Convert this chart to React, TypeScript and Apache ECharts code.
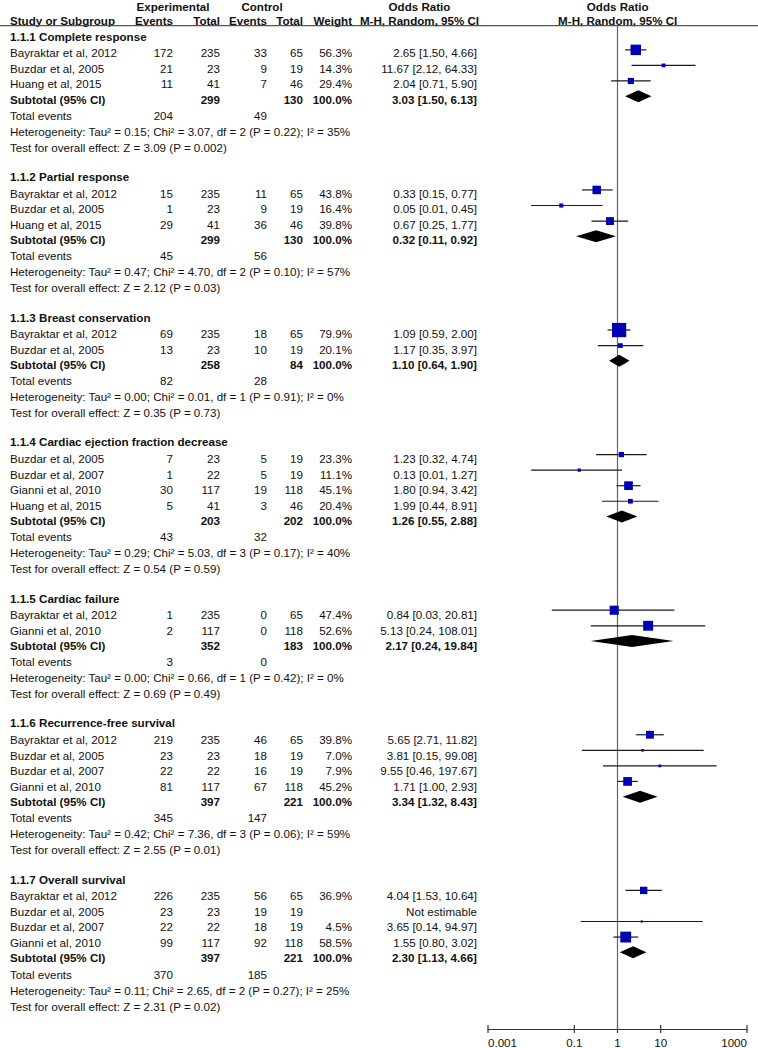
import React, { useEffect, useRef } from "react";
import * as echarts from "echarts";

// ---------- data ----------
const SECTION_TITLES = [
  "1.1.1 Complete response",
  "1.1.2 Partial response",
  "1.1.3 Breast conservation",
  "1.1.4 Cardiac ejection fraction decrease",
  "1.1.5 Cardiac failure",
  "1.1.6 Recurrence-free survival",
  "1.1.7 Overall survival",
];

const STUDY_SECTION = [0, 0, 0, 1, 1, 1, 2, 2, 3, 3, 3, 3, 4, 4, 5, 5, 5, 5, 6, 6, 6, 6];
const STUDY_NAMES = [
  "Bayraktar et al, 2012", "Buzdar et al, 2005", "Huang et al, 2015",
  "Bayraktar et al, 2012", "Buzdar et al, 2005", "Huang et al, 2015",
  "Bayraktar et al, 2012", "Buzdar et al, 2005",
  "Buzdar et al, 2005", "Buzdar et al, 2007", "Gianni et al, 2010", "Huang et al, 2015",
  "Bayraktar et al, 2012", "Gianni et al, 2010",
  "Bayraktar et al, 2012", "Buzdar et al, 2005", "Buzdar et al, 2007", "Gianni et al, 2010",
  "Bayraktar et al, 2012", "Buzdar et al, 2005", "Buzdar et al, 2007", "Gianni et al, 2010",
];
const EXP_EVENTS = [172, 21, 11, 15, 1, 29, 69, 13, 7, 1, 30, 5, 1, 2, 219, 23, 22, 81, 226, 23, 22, 99];
const EXP_TOTAL = [235, 23, 41, 235, 23, 41, 235, 23, 23, 22, 117, 41, 235, 117, 235, 23, 22, 117, 235, 23, 22, 117];
const CTL_EVENTS = [33, 9, 7, 11, 9, 36, 18, 10, 5, 5, 19, 3, 0, 0, 46, 18, 16, 67, 56, 19, 18, 92];
const CTL_TOTAL = [65, 19, 46, 65, 19, 46, 65, 19, 19, 19, 118, 46, 65, 118, 65, 19, 19, 118, 65, 19, 19, 118];
const WEIGHTS: (number | null)[] = [56.3, 14.3, 29.4, 43.8, 16.4, 39.8, 79.9, 20.1, 23.3, 11.1, 45.1, 20.4, 47.4, 52.6, 39.8, 7.0, 7.9, 45.2, 36.9, null, 4.5, 58.5];
const OR_EST: (number | null)[] = [2.65, 11.67, 2.04, 0.33, 0.05, 0.67, 1.09, 1.17, 1.23, 0.13, 1.80, 1.99, 0.84, 5.13, 5.65, 3.81, 9.55, 1.71, 4.04, null, 3.65, 1.55];
const OR_LO: (number | null)[] = [1.50, 2.12, 0.71, 0.15, 0.01, 0.25, 0.59, 0.35, 0.32, 0.01, 0.94, 0.44, 0.03, 0.24, 2.71, 0.15, 0.46, 1.00, 1.53, null, 0.14, 0.80];
const OR_HI: (number | null)[] = [4.66, 64.33, 5.90, 0.77, 0.45, 1.77, 2.00, 3.97, 4.74, 1.27, 3.42, 8.91, 20.81, 108.01, 11.82, 99.08, 197.67, 2.93, 10.64, null, 94.97, 3.02];

const SUB_EXP_TOTAL = [299, 299, 258, 203, 352, 397, 397];
const SUB_CTL_TOTAL = [130, 130, 84, 202, 183, 221, 221];
const SUB_OR = [3.03, 0.32, 1.10, 1.26, 2.17, 3.34, 2.30];
const SUB_LO = [1.50, 0.11, 0.64, 0.55, 0.24, 1.32, 1.13];
const SUB_HI = [6.13, 0.92, 1.90, 2.88, 19.84, 8.43, 4.66];
const TOTAL_EXP_EVENTS = [204, 45, 82, 43, 3, 345, 370];
const TOTAL_CTL_EVENTS = [49, 56, 28, 32, 0, 147, 185];
const HETEROGENEITY = [
  "Heterogeneity: Tau² = 0.15; Chi² = 3.07, df = 2 (P = 0.22); I² = 35%",
  "Heterogeneity: Tau² = 0.47; Chi² = 4.70, df = 2 (P = 0.10); I² = 57%",
  "Heterogeneity: Tau² = 0.00; Chi² = 0.01, df = 1 (P = 0.91); I² = 0%",
  "Heterogeneity: Tau² = 0.29; Chi² = 5.03, df = 3 (P = 0.17); I² = 40%",
  "Heterogeneity: Tau² = 0.00; Chi² = 0.66, df = 1 (P = 0.42); I² = 0%",
  "Heterogeneity: Tau² = 0.42; Chi² = 7.36, df = 3 (P = 0.06); I² = 59%",
  "Heterogeneity: Tau² = 0.11; Chi² = 2.65, df = 2 (P = 0.27); I² = 25%",
];
const OVERALL_EFFECT = [
  "Test for overall effect: Z = 3.09 (P = 0.002)",
  "Test for overall effect: Z = 2.12 (P = 0.03)",
  "Test for overall effect: Z = 0.35 (P = 0.73)",
  "Test for overall effect: Z = 0.54 (P = 0.59)",
  "Test for overall effect: Z = 0.69 (P = 0.49)",
  "Test for overall effect: Z = 2.55 (P = 0.01)",
  "Test for overall effect: Z = 2.31 (P = 0.02)",
];
const X_TICKS = [0.001, 0.1, 1, 10, 1000];
const X_TICK_LABELS = ["0.001", "0.1", "1", "10", "1000"];

// ---------- layout ----------
const FONT = "'Liberation Sans', Arial, Helvetica, sans-serif";
const FONT_SIZE = 11.6;
const TEXT_COLOR = "#111";
const COL = { name: 10, expEv: 173, expTot: 220, ctlEv: 267, ctlTot: 303, weight: 352, orText: 477 };
const AXIS_Y = 1032;
const HEADER_LINE_Y = 25;
const MARK_DY = -2.5;

type Row = { kind: string; y: number; sec: number; idx?: number };

function layoutRows(): Row[] {
  const rows: Row[] = [];
  let y = 36;
  for (let s = 0; s < SECTION_TITLES.length; s++) {
    rows.push({ kind: "title", y, sec: s });
    y += 16.5;
    const ids = STUDY_SECTION.map((v, i) => (v === s ? i : -1)).filter((i) => i >= 0);
    ids.forEach((i, k) => {
      if (k > 0) y += 15.6;
      rows.push({ kind: "study", y, sec: s, idx: i });
    });
    y += 15.3;
    rows.push({ kind: "subtotal", y, sec: s });
    y += 16.4;
    rows.push({ kind: "total", y, sec: s });
    y += 16;
    rows.push({ kind: "het", y, sec: s });
    y += 16;
    rows.push({ kind: "test", y, sec: s });
    y += 29.1;
  }
  return rows;
}

function txt(x: number, y: number, text: string, align = "left", bold = false) {
  return {
    type: "text",
    x,
    y,
    silent: true,
    z: 10,
    style: {
      text,
      fill: TEXT_COLOR,
      font: `${bold ? "bold " : ""}${FONT_SIZE}px ${FONT}`,
      textAlign: align,
      textVerticalAlign: "middle",
      align,
      verticalAlign: "middle",
    },
  };
}

const fmtCI = (e: number, l: number, h: number) => `${e.toFixed(2)} [${l.toFixed(2)}, ${h.toFixed(2)}]`;

function buildOption() {
  const rows = layoutRows();
  const graphics: any[] = [];

  // headers
  graphics.push(txt(173, 6, "Experimental", "center", true));
  graphics.push(txt(262, 6, "Control", "center", true));
  graphics.push(txt(419.5, 6, "Odds Ratio", "center", true));
  graphics.push(txt(617.7, 6, "Odds Ratio", "center", true));
  graphics.push(txt(COL.name, 20, "Study or Subgroup", "left", true));
  graphics.push(txt(COL.expEv, 20, "Events", "right", true));
  graphics.push(txt(COL.expTot, 20, "Total", "right", true));
  graphics.push(txt(COL.ctlEv, 20, "Events", "right", true));
  graphics.push(txt(COL.ctlTot, 20, "Total", "right", true));
  graphics.push(txt(COL.weight, 20, "Weight", "right", true));
  graphics.push(txt(419.5, 20, "M-H, Random, 95% CI", "center", true));
  graphics.push(txt(617.7, 20, "M-H, Random, 95% CI", "center", true));
  graphics.push({
    type: "rect",
    silent: true,
    z: 10,
    shape: { x: 0, y: HEADER_LINE_Y, width: 758, height: 1.3 },
    style: { fill: "#555" },
  });

  const studyData: any[] = [];
  const diamondData: any[] = [];

  rows.forEach((r) => {
    const s = r.sec;
    if (r.kind === "title") {
      graphics.push(txt(COL.name, r.y, SECTION_TITLES[s], "left", true));
    } else if (r.kind === "study") {
      const i = r.idx as number;
      graphics.push(txt(COL.name, r.y, STUDY_NAMES[i]));
      graphics.push(txt(COL.expEv, r.y, String(EXP_EVENTS[i]), "right"));
      graphics.push(txt(COL.expTot, r.y, String(EXP_TOTAL[i]), "right"));
      graphics.push(txt(COL.ctlEv, r.y, String(CTL_EVENTS[i]), "right"));
      graphics.push(txt(COL.ctlTot, r.y, String(CTL_TOTAL[i]), "right"));
      const w = WEIGHTS[i];
      if (w !== null) graphics.push(txt(COL.weight, r.y, `${w.toFixed(1)}%`, "right"));
      const e = OR_EST[i], l = OR_LO[i], h = OR_HI[i];
      if (e !== null && l !== null && h !== null && w !== null) {
        graphics.push(txt(COL.orText, r.y, fmtCI(e, l, h), "right"));
        studyData.push([e, l, h, r.y + MARK_DY, w]);
      } else {
        graphics.push(txt(COL.orText, r.y, "Not estimable", "right"));
      }
    } else if (r.kind === "subtotal") {
      graphics.push(txt(COL.name, r.y, "Subtotal (95% CI)", "left", true));
      graphics.push(txt(COL.expTot, r.y, String(SUB_EXP_TOTAL[s]), "right", true));
      graphics.push(txt(COL.ctlTot, r.y, String(SUB_CTL_TOTAL[s]), "right", true));
      graphics.push(txt(COL.weight, r.y, "100.0%", "right", true));
      graphics.push(txt(COL.orText, r.y, fmtCI(SUB_OR[s], SUB_LO[s], SUB_HI[s]), "right", true));
      diamondData.push([SUB_OR[s], SUB_LO[s], SUB_HI[s], r.y + MARK_DY]);
    } else if (r.kind === "total") {
      graphics.push(txt(COL.name, r.y, "Total events"));
      graphics.push(txt(COL.expEv, r.y, String(TOTAL_EXP_EVENTS[s]), "right"));
      graphics.push(txt(COL.ctlEv, r.y, String(TOTAL_CTL_EVENTS[s]), "right"));
    } else if (r.kind === "het") {
      graphics.push(txt(COL.name, r.y, HETEROGENEITY[s]));
    } else if (r.kind === "test") {
      graphics.push(txt(COL.name, r.y, OVERALL_EFFECT[s]));
    }
  });

  const option: any = {
    animation: false,
    backgroundColor: "#fff",
    grid: { left: 488, width: 259, top: 0, height: AXIS_Y, containLabel: false },
    xAxis: {
      type: "log",
      logBase: 10,
      min: 0.001,
      max: 1000,
      position: "bottom",
      axisLine: { show: true, onZero: false, lineStyle: { color: "#333", width: 1.2 } },
      axisTick: { show: false },
      splitLine: { show: false },
      minorTick: { show: false },
      axisLabel: {
        show: true,
        customValues: X_TICKS,
        margin: 7,
        color: TEXT_COLOR,
        fontFamily: FONT,
        fontSize: FONT_SIZE,
        alignMinLabel: "left",
        alignMaxLabel: "right",
        formatter: (v: number) => {
          let best = 0;
          X_TICKS.forEach((t, k) => {
            if (Math.abs(Math.log10(t) - Math.log10(v)) < Math.abs(Math.log10(X_TICKS[best]) - Math.log10(v))) best = k;
          });
          return Math.abs(Math.log10(X_TICKS[best]) - Math.log10(v)) < 0.01 ? X_TICK_LABELS[best] : "";
        },
      },
    },
    yAxis: {
      type: "value",
      min: 0,
      max: AXIS_Y,
      inverse: true,
      show: false,
    },
    graphic: graphics,
    series: [
      {
        // null line + axis ticks
        type: "custom",
        silent: true,
        clip: false,
        data: X_TICKS.map((t) => [t, AXIS_Y]),
        encode: { x: 0, y: 1 },
        renderItem: (params: any, api: any) => {
          const t = api.value(0);
          const p = api.coord([t, AXIS_Y]);
          const children: any[] = [
            { type: "line", shape: { x1: p[0], y1: p[1] - 4, x2: p[0], y2: p[1] + 4 }, style: { stroke: "#333", lineWidth: 1.2 } },
          ];
          if (t === 1) {
            const top = api.coord([1, HEADER_LINE_Y]);
            children.push({ type: "line", shape: { x1: p[0], y1: top[1], x2: p[0], y2: p[1] }, style: { stroke: "#666", lineWidth: 1.2 } });
          }
          return { type: "group", children };
        },
      },
      {
        type: "custom",
        silent: true,
        clip: false,
        data: studyData,
        encode: { x: [0, 1, 2], y: 3 },
        renderItem: (params: any, api: any) => {
          const e = api.value(0), l = api.value(1), h = api.value(2), y = api.value(3), w = api.value(4);
          const pl = api.coord([l, y]);
          const ph = api.coord([h, y]);
          const pe = api.coord([e, y]);
          const s = 1.5 + 0.16 * w;
          return {
            type: "group",
            children: [
              { type: "line", shape: { x1: pl[0], y1: pl[1], x2: ph[0], y2: ph[1] }, style: { stroke: "#1a1a1a", lineWidth: 1.2 } },
              { type: "rect", shape: { x: pe[0] - s / 2, y: pe[1] - s / 2, width: s, height: s }, style: { fill: "#0000b4" } },
            ],
          };
        },
      },
      {
        type: "custom",
        silent: true,
        clip: false,
        data: diamondData,
        encode: { x: [0, 1, 2], y: 3 },
        renderItem: (params: any, api: any) => {
          const e = api.value(0), l = api.value(1), h = api.value(2), y = api.value(3);
          const pl = api.coord([l, y]);
          const ph = api.coord([h, y]);
          const pe = api.coord([e, y]);
          return {
            type: "polygon",
            shape: { points: [[pl[0], pl[1]], [pe[0], pe[1] - 6], [ph[0], ph[1]], [pe[0], pe[1] + 6]] },
            style: { fill: "#000" },
          };
        },
      },
    ],
  };
  return option;
}

export default function App() {
  const ref = useRef<HTMLDivElement>(null);
  useEffect(() => {
    if (!ref.current) return;
    const chart = echarts.init(ref.current, null, { renderer: "svg" });
    chart.setOption(buildOption());
    return () => chart.dispose();
  }, []);
  return (
    <div
      ref={ref}
      style={{ position: "absolute", left: 0, top: 0, width: 758, height: 1048, background: "#fff" }}
    />
  );
}
